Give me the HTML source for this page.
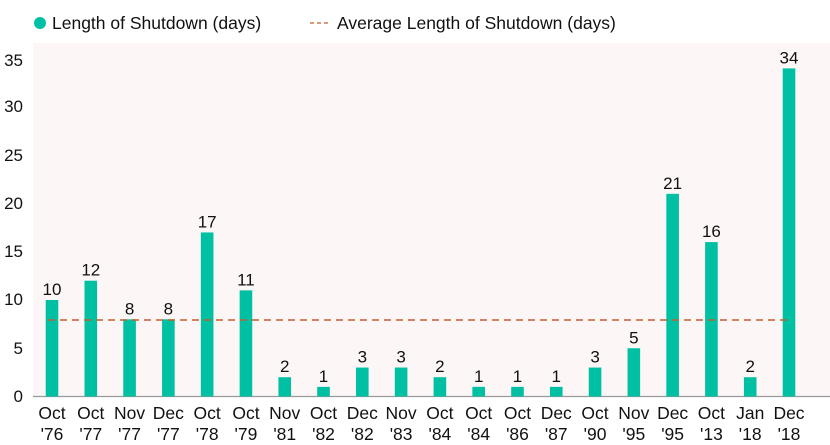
<!DOCTYPE html>
<html><head><meta charset="utf-8"><style>
html,body{margin:0;padding:0;background:#fff;}
svg{display:block;font-family:"Liberation Sans",sans-serif;}
</style></head><body>
<svg width="830" height="445" viewBox="0 0 830 445">
<rect x="33" y="43" width="797" height="354" fill="#fcf7f6"/>
<circle cx="40" cy="23" r="6" fill="#00c0a3"/>
<text x="52" y="29" font-size="17.5" fill="#111">Length of Shutdown (days)</text>
<line x1="310" y1="23" x2="331" y2="23" stroke="#c97a4a" stroke-width="1.5" stroke-dasharray="4,3"/>
<text x="337" y="29" font-size="17.5" fill="#111">Average Length of Shutdown (days)</text>
<g font-size="17" fill="#111" text-anchor="end">
<text x="23" y="402">0</text><text x="23" y="354">5</text><text x="23" y="305">10</text><text x="23" y="257">15</text><text x="23" y="209">20</text><text x="23" y="161">25</text><text x="23" y="112">30</text><text x="23" y="66">35</text>
</g>
<line x1="33" y1="396.5" x2="830" y2="396.5" stroke="#999" stroke-width="1.2"/>
<g id="bars" fill="#00c0a3"></g>
<line x1="48" y1="320" x2="790" y2="320" stroke="#c0602a" stroke-width="1.6" stroke-dasharray="7,5"/>
<g id="lbl" font-size="17.5" fill="#111" text-anchor="middle"></g>
<script>
var d=[[10,"Oct","'76"],[12,"Oct","'77"],[8,"Nov","'77"],[8,"Dec","'77"],[17,"Oct","'78"],[11,"Oct","'79"],[2,"Nov","'81"],[1,"Oct","'82"],[3,"Dec","'82"],[3,"Nov","'83"],[2,"Oct","'84"],[1,"Oct","'84"],[1,"Oct","'86"],[1,"Dec","'87"],[3,"Oct","'90"],[5,"Nov","'95"],[21,"Dec","'95"],[16,"Oct","'13"],[2,"Jan","'18"],[34,"Dec","'18"]];
var ns="http://www.w3.org/2000/svg",b=document.getElementById("bars"),l=document.getElementById("lbl");
var step=(789-52)/(d.length-1);
d.forEach(function(e,i){var cx=52+i*step,h=e[0]*9.65,y=396.5-h;
var r=document.createElementNS(ns,"rect");r.setAttribute("x",cx-6.3);r.setAttribute("y",y);r.setAttribute("width",12.6);r.setAttribute("height",h);b.appendChild(r);
function t(s,yy,fs){var x=document.createElementNS(ns,"text");x.setAttribute("x",cx);x.setAttribute("y",yy);if(fs)x.setAttribute("font-size",fs);x.textContent=s;l.appendChild(x);}
t(e[0],y-5,17);t(e[1],419);t(e[2],440);});
</script>
</svg>
</body></html>
